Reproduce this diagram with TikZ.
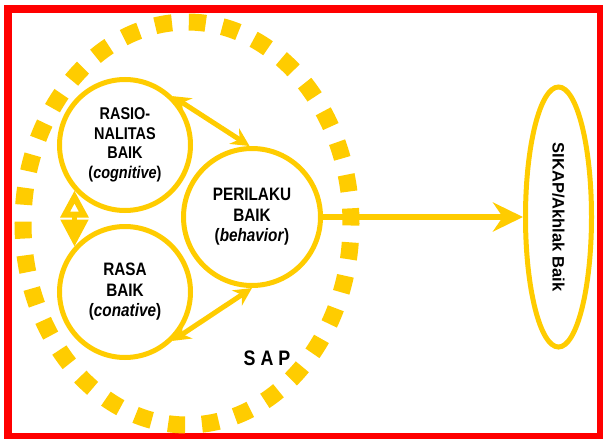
\documentclass[tikz,border=0pt]{standalone}
\usepackage{fontspec}
\setmainfont[FakeStretch=0.85]{Liberation Sans}
\newfontfamily\tegak{Liberation Sans}
\usetikzlibrary{shapes.geometric}
\usetikzlibrary{arrows.meta}
\definecolor{kuning}{RGB}{255,204,0}
\definecolor{merah}{RGB}{255,0,0}

\begin{document}
\begin{tikzpicture}[x=1pt,y=-1pt,
  bulat/.style={circle,draw=kuning,line width=5pt,inner sep=0pt,align=center,
    font=\bfseries\fontsize{17}{19.5}\selectfont},
  besar/.style={font=\bfseries\fontsize{18}{20.5}\selectfont},
  panah/.style={draw=kuning,line width=5pt,
    {Stealth[length=18pt,width=18pt]}-{Stealth[length=18pt,width=18pt]}}]
\useasboundingbox (0,0) rectangle (603,439);
\draw [merah,line width=8pt] (8,9) rectangle (601,437);
\draw [kuning,line width=17pt,dash pattern=on 17pt off 16.86pt,dash phase=15pt]
  (187,223.5) ellipse [x radius=164,y radius=201.5];
\node [bulat,minimum size=131pt] (rasio) at (125,145) {RASIO-\\NALITAS\\BAIK\\(\textit{cognitive})};
\node [bulat,besar,minimum size=131pt] (rasa) at (125,292) {RASA\\BAIK\\(\textit{conative})};
\node [bulat,besar,minimum size=137pt] (perilaku) at (252,217) {PERILAKU\\BAIK\\(\textit{behavior})};
\node [ellipse,draw=kuning,line width=5pt,inner sep=0pt,rotate=-90,
  minimum width=260pt,minimum height=66pt,font=\tegak\bfseries\fontsize{16.5}{20}\selectfont]
  (sikap) at (558.5,217) {SIKAP/Akhlak Baik};
\node [anchor=base,font=\bfseries\fontsize{21}{24}\selectfont] (sap) at (267,365) {S A P};
\draw [panah] (rasio.46) -- (perilaku.92);
\draw [panah] (rasa.-46) -- (perilaku.-90);
\draw [kuning,line width=5pt,{Triangle[open,line width=6pt,length=27pt,width=27pt]}-{Triangle[length=27pt,width=27pt]}]
  (rasio.222) -- (rasa.138);
\draw [kuning,line width=6pt,-{Stealth[length=30pt,width=29pt]}] (perilaku.east) -- (sikap.south);
\end{tikzpicture}
\end{document}
